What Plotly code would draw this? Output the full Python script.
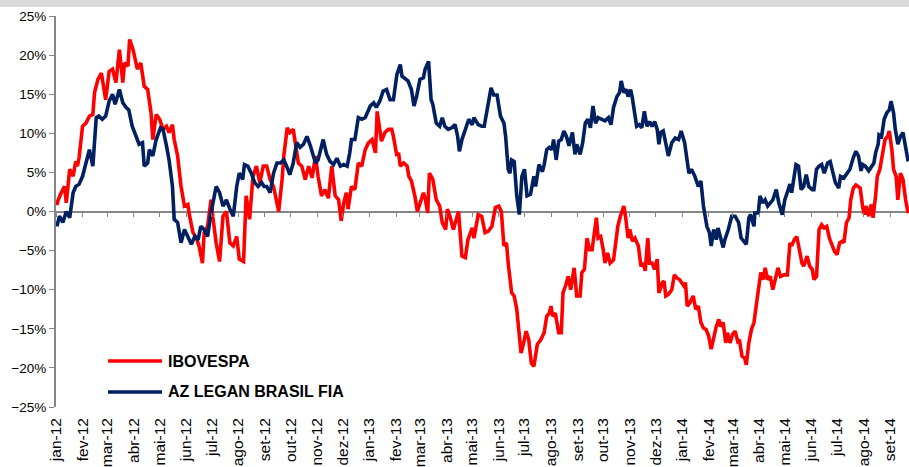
import pandas as pd
import plotly.graph_objects as go

SERIES_NAMES = ["IBOVESPA", "AZ LEGAN BRASIL FIA"]
SERIES_COLORS = ["#FF0000", "#002060"]
MONTH_ABBR = ["jan", "fev", "mar", "abr", "mai", "jun", "jul", "ago", "set", "out", "nov", "dez"]

IBOV_DATES = [
    "2012-01-02", "2012-01-03", "2012-01-07", "2012-01-11", "2012-01-13", "2012-01-17", "2012-01-21", "2012-01-24",
    "2012-01-26", "2012-01-28", "2012-02-01", "2012-02-05", "2012-02-09", "2012-02-13", "2012-02-15", "2012-02-19",
    "2012-02-23", "2012-02-26", "2012-02-28", "2012-03-03", "2012-03-07", "2012-03-11", "2012-03-15", "2012-03-19",
    "2012-03-21", "2012-03-25", "2012-03-27", "2012-03-31", "2012-04-05", "2012-04-09", "2012-04-13", "2012-04-17",
    "2012-04-21", "2012-04-23", "2012-04-27", "2012-05-01", "2012-05-05", "2012-05-09", "2012-05-12", "2012-05-16",
    "2012-05-18", "2012-05-22", "2012-05-26", "2012-05-30", "2012-06-03", "2012-06-05", "2012-06-09", "2012-06-13",
    "2012-06-16", "2012-06-20", "2012-06-22", "2012-06-26", "2012-06-30", "2012-07-02", "2012-07-06", "2012-07-10",
    "2012-07-14", "2012-07-18", "2012-07-22", "2012-07-26", "2012-07-30", "2012-08-02", "2012-08-07", "2012-08-10",
    "2012-08-14", "2012-08-18", "2012-08-22", "2012-08-26", "2012-08-30", "2012-09-03", "2012-09-07", "2012-09-11",
    "2012-09-13", "2012-09-17", "2012-09-21", "2012-09-23", "2012-09-27", "2012-09-30", "2012-10-04", "2012-10-08",
    "2012-10-10", "2012-10-14", "2012-10-18", "2012-10-22", "2012-10-26", "2012-10-30", "2012-11-02", "2012-11-06",
    "2012-11-10", "2012-11-14", "2012-11-18", "2012-11-22", "2012-11-26", "2012-11-29", "2012-12-02", "2012-12-05",
    "2012-12-07", "2012-12-11", "2012-12-15", "2012-12-19", "2012-12-23", "2012-12-27", "2012-12-31", "2013-01-04",
    "2013-01-08", "2013-01-10", "2013-01-13", "2013-01-15", "2013-01-19", "2013-01-23", "2013-01-27", "2013-01-29",
    "2013-02-02", "2013-02-04", "2013-02-06", "2013-02-10", "2013-02-14", "2013-02-16", "2013-02-19", "2013-02-23",
    "2013-02-26", "2013-03-01", "2013-03-05", "2013-03-07", "2013-03-10", "2013-03-12", "2013-03-16", "2013-03-20",
    "2013-03-24", "2013-03-27", "2013-03-31", "2013-04-02", "2013-04-05", "2013-04-09", "2013-04-12", "2013-04-15",
    "2013-04-19", "2013-04-23", "2013-04-26", "2013-05-01", "2013-05-03", "2013-05-08", "2013-05-12", "2013-05-16",
    "2013-05-20", "2013-05-24", "2013-05-28", "2013-06-01", "2013-06-04", "2013-06-07", "2013-06-10", "2013-06-12",
    "2013-06-16", "2013-06-19", "2013-06-22", "2013-06-24", "2013-06-27", "2013-06-30", "2013-07-03", "2013-07-06",
    "2013-07-09", "2013-07-12", "2013-07-16", "2013-07-20", "2013-07-24", "2013-07-27", "2013-07-30", "2013-08-01",
    "2013-08-03", "2013-08-06", "2013-08-10", "2013-08-13", "2013-08-15", "2013-08-18", "2013-08-21", "2013-08-24",
    "2013-08-28", "2013-08-31", "2013-09-04", "2013-09-06", "2013-09-09", "2013-09-12", "2013-09-15", "2013-09-18",
    "2013-09-21", "2013-09-23", "2013-09-25", "2013-09-28", "2013-10-01", "2013-10-03", "2013-10-06", "2013-10-09",
    "2013-10-13", "2013-10-15", "2013-10-18", "2013-10-21", "2013-10-25", "2013-10-27", "2013-10-30", "2013-11-01",
    "2013-11-04", "2013-11-07", "2013-11-11", "2013-11-14", "2013-11-17", "2013-11-19", "2013-11-22", "2013-11-24",
    "2013-11-27", "2013-11-30", "2013-12-03", "2013-12-05", "2013-12-09", "2013-12-11", "2013-12-13", "2013-12-16",
    "2013-12-20", "2013-12-23", "2013-12-26", "2013-12-29", "2013-12-31", "2014-01-03", "2014-01-05", "2014-01-07",
    "2014-01-10", "2014-01-14", "2014-01-17", "2014-01-20", "2014-01-23", "2014-01-26", "2014-01-29", "2014-02-01",
    "2014-02-04", "2014-02-07", "2014-02-10", "2014-02-13", "2014-02-15", "2014-02-18", "2014-02-21", "2014-02-23",
    "2014-02-26", "2014-03-01", "2014-03-04", "2014-03-07", "2014-03-09", "2014-03-12", "2014-03-15", "2014-03-17",
    "2014-03-20", "2014-03-23", "2014-03-26", "2014-03-29", "2014-03-31", "2014-04-03", "2014-04-06", "2014-04-08",
    "2014-04-11", "2014-04-14", "2014-04-17", "2014-04-20", "2014-04-23", "2014-04-26", "2014-04-30", "2014-05-04",
    "2014-05-07", "2014-05-09", "2014-05-12", "2014-05-15", "2014-05-18", "2014-05-21", "2014-05-23", "2014-05-27",
    "2014-05-30", "2014-06-02", "2014-06-04", "2014-06-07", "2014-06-10", "2014-06-13", "2014-06-16", "2014-06-19",
    "2014-06-22", "2014-06-25", "2014-06-28", "2014-07-01", "2014-07-04", "2014-07-07", "2014-07-09", "2014-07-12",
    "2014-07-15", "2014-07-17", "2014-07-20", "2014-07-23", "2014-07-26", "2014-07-28", "2014-07-31", "2014-08-02",
    "2014-08-04", "2014-08-07", "2014-08-10", "2014-08-12", "2014-08-15", "2014-08-17", "2014-08-20", "2014-08-23",
    "2014-08-26", "2014-08-29", "2014-08-31", "2014-09-03", "2014-09-05", "2014-09-08", "2014-09-10", "2014-09-13",
    "2014-09-16", "2014-09-19", "2014-09-22",
]
IBOV_VALUES = [
    0.8, 1.3, 2.4, 3.2, 1.1, 5.4, 4.5, 6.4,
    5.8, 6.9, 10.9, 11.3, 12.2, 12.4, 15.2, 16.9,
    17.7, 16.0, 14.3, 17.9, 18.2, 16.5, 20.7, 16.5,
    19.0, 18.6, 22.0, 20.7, 18.2, 19.0, 16.0, 15.6,
    12.6, 9.2, 12.4, 11.8, 10.5, 10.9, 10.1, 11.1,
    9.2, 7.1, 3.2, 0.7, 0.9, -0.6, -2.7, -3.4,
    -4.4, -6.6, -2.7, -1.9, 1.5, -0.6, -4.0, -6.4,
    -0.6, 0.0, -4.0, -4.4, -3.2, -6.1, -6.4, 2.0,
    -1.0, 4.5, 5.8, 3.7, 5.8, 5.8, 4.1, 3.2,
    2.0, 0.0, 4.1, 7.1, 10.7, 10.1, 10.5, 7.9,
    6.2, 5.8, 4.1, 5.8, 4.3, 7.1, 4.5, 2.0,
    2.8, 1.7, 5.8, 2.0, 1.5, -1.2, 1.1, 2.4,
    0.3, 3.2, 2.8, 6.2, 5.8, 7.9, 8.8, 9.2,
    7.5, 12.8, 10.5, 9.0, 10.1, 10.5, 10.5, 9.6,
    7.1, 7.5, 5.8, 6.2, 5.8, 4.5, 3.9, 2.0,
    0.0, 1.1, 2.4, 1.7, -0.2, 4.9, 4.1, 1.5,
    0.7, -1.4, -2.3, 0.3, -0.6, -2.3, -1.0, 0.0,
    -5.7, -5.9, -3.6, -2.1, -3.4, -0.4, -0.6, -2.7,
    -2.5, -1.9, 0.5, 0.7, 0.0, -4.4, -4.0, -6.6,
    -10.4, -10.8, -12.5, -14.7, -18.1, -16.8, -15.3, -16.4,
    -19.4, -19.8, -17.0, -16.4, -15.5, -13.4, -13.0, -12.1,
    -13.4, -13.0, -15.5, -15.5, -10.4, -9.5, -8.3, -10.0,
    -7.2, -10.8, -10.8, -7.8, -7.4, -3.4, -4.9, -4.9,
    -2.3, -0.8, -3.4, -3.2, -4.9, -6.6, -5.3, -6.6,
    -6.2, -4.4, -1.9, -0.6, 0.7, -0.6, -3.4, -2.3,
    -3.8, -3.4, -4.4, -7.0, -6.6, -7.6, -3.4, -6.6,
    -6.6, -7.4, -6.1, -10.4, -9.1, -8.9, -10.8, -10.6,
    -10.0, -8.1, -8.5, -8.7, -9.1, -9.5, -9.1, -12.1,
    -11.7, -10.8, -12.5, -12.1, -14.2, -14.9, -15.1, -15.9,
    -17.6, -15.9, -14.7, -13.8, -14.7, -14.2, -16.8, -15.5,
    -16.8, -15.7, -15.3, -16.6, -16.4, -18.5, -18.7, -19.6,
    -16.8, -15.1, -14.2, -11.7, -10.4, -7.8, -8.7, -7.2,
    -8.7, -8.3, -10.0, -8.7, -7.2, -8.3, -8.1, -8.1,
    -4.0, -4.4, -3.6, -3.2, -4.9, -6.6, -7.0, -5.7,
    -7.0, -7.4, -8.7, -8.3, -2.3, -1.7, -2.1, -1.9,
    -3.4, -4.4, -5.1, -5.5, -4.0, -3.8, -4.0, -1.4,
    -0.8, 1.5, 3.0, 3.4, 3.2, 3.0, 0.5, -0.4,
    0.7, -0.6, 0.9, -0.8, 2.0, 4.5, 5.4, 7.1,
    9.2, 9.6, 10.3, 7.9, 5.4, 4.5, 1.5, 4.9,
    4.1, 1.5, -0.2,
]

AZ_DATES = [
    "2012-01-02", "2012-01-05", "2012-01-09", "2012-01-13", "2012-01-17", "2012-01-21", "2012-01-24", "2012-01-28",
    "2012-02-01", "2012-02-05", "2012-02-09", "2012-02-13", "2012-02-17", "2012-02-20", "2012-02-24", "2012-02-28",
    "2012-03-03", "2012-03-07", "2012-03-10", "2012-03-15", "2012-03-19", "2012-03-23", "2012-03-26", "2012-03-30",
    "2012-04-03", "2012-04-07", "2012-04-11", "2012-04-13", "2012-04-17", "2012-04-19", "2012-04-23", "2012-04-27",
    "2012-05-02", "2012-05-05", "2012-05-09", "2012-05-12", "2012-05-16", "2012-05-18", "2012-05-22", "2012-05-26",
    "2012-05-30", "2012-06-03", "2012-06-07", "2012-06-11", "2012-06-15", "2012-06-18", "2012-06-22", "2012-06-26",
    "2012-06-30", "2012-07-06", "2012-07-10", "2012-07-14", "2012-07-18", "2012-07-22", "2012-07-26", "2012-07-30",
    "2012-08-02", "2012-08-06", "2012-08-08", "2012-08-12", "2012-08-16", "2012-08-20", "2012-08-24", "2012-08-28",
    "2012-08-31", "2012-09-03", "2012-09-07", "2012-09-11", "2012-09-15", "2012-09-19", "2012-09-23", "2012-09-27",
    "2012-09-30", "2012-10-04", "2012-10-08", "2012-10-12", "2012-10-16", "2012-10-20", "2012-10-24", "2012-10-30",
    "2012-11-02", "2012-11-08", "2012-11-12", "2012-11-16", "2012-11-20", "2012-11-24", "2012-11-28", "2012-12-02",
    "2012-12-06", "2012-12-09", "2012-12-11", "2012-12-15", "2012-12-19", "2012-12-23", "2012-12-27", "2013-01-02",
    "2013-01-06", "2013-01-09", "2013-01-13", "2013-01-17", "2013-01-21", "2013-01-25", "2013-01-29", "2013-02-02",
    "2013-02-06", "2013-02-08", "2013-02-12", "2013-02-15", "2013-02-19", "2013-02-22", "2013-02-25", "2013-03-01",
    "2013-03-05", "2013-03-07", "2013-03-11", "2013-03-14", "2013-03-16", "2013-03-20", "2013-03-24", "2013-03-27",
    "2013-03-30", "2013-04-03", "2013-04-07", "2013-04-11", "2013-04-14", "2013-04-16", "2013-04-19", "2013-04-23",
    "2013-04-27", "2013-05-01", "2013-05-03", "2013-05-08", "2013-05-12", "2013-05-15", "2013-05-19", "2013-05-23",
    "2013-05-26", "2013-05-30", "2013-06-03", "2013-06-07", "2013-06-09", "2013-06-12", "2013-06-14", "2013-06-16",
    "2013-06-19", "2013-06-22", "2013-06-25", "2013-06-28", "2013-07-01", "2013-07-04", "2013-07-08", "2013-07-12",
    "2013-07-14", "2013-07-18", "2013-07-22", "2013-07-24", "2013-07-27", "2013-07-30", "2013-08-02", "2013-08-04",
    "2013-08-07", "2013-08-10", "2013-08-13", "2013-08-16", "2013-08-19", "2013-08-22", "2013-08-26", "2013-08-29",
    "2013-08-31", "2013-09-04", "2013-09-07", "2013-09-10", "2013-09-13", "2013-09-16", "2013-09-19", "2013-09-22",
    "2013-09-25", "2013-09-30", "2013-10-03", "2013-10-07", "2013-10-10", "2013-10-13", "2013-10-17", "2013-10-20",
    "2013-10-22", "2013-10-25", "2013-10-28", "2013-10-30", "2013-11-02", "2013-11-04", "2013-11-07", "2013-11-09",
    "2013-11-12", "2013-11-15", "2013-11-18", "2013-11-21", "2013-11-24", "2013-11-27", "2013-11-30", "2013-12-03",
    "2013-12-05", "2013-12-07", "2013-12-10", "2013-12-13", "2013-12-16", "2013-12-20", "2013-12-24", "2013-12-28",
    "2013-12-31", "2014-01-04", "2014-01-06", "2014-01-09", "2014-01-12", "2014-01-16", "2014-01-20", "2014-01-23",
    "2014-01-26", "2014-01-30", "2014-02-02", "2014-02-04", "2014-02-07", "2014-02-10", "2014-02-12", "2014-02-15",
    "2014-02-18", "2014-02-20", "2014-02-24", "2014-02-28", "2014-03-04", "2014-03-08", "2014-03-11", "2014-03-14",
    "2014-03-17", "2014-03-20", "2014-03-22", "2014-03-26", "2014-03-27", "2014-03-31", "2014-04-02", "2014-04-05",
    "2014-04-08", "2014-04-11", "2014-04-14", "2014-04-17", "2014-04-21", "2014-04-24", "2014-04-28", "2014-05-01",
    "2014-05-05", "2014-05-07", "2014-05-09", "2014-05-12", "2014-05-14", "2014-05-17", "2014-05-20", "2014-05-23",
    "2014-05-26", "2014-05-29", "2014-06-02", "2014-06-04", "2014-06-07", "2014-06-10", "2014-06-13", "2014-06-16",
    "2014-06-20", "2014-06-23", "2014-06-26", "2014-06-29", "2014-07-03", "2014-07-05", "2014-07-09", "2014-07-13",
    "2014-07-16", "2014-07-20", "2014-07-23", "2014-07-26", "2014-07-29", "2014-07-31", "2014-08-03", "2014-08-07",
    "2014-08-10", "2014-08-13", "2014-08-15", "2014-08-18", "2014-08-19", "2014-08-22", "2014-08-25", "2014-08-28",
    "2014-08-31", "2014-09-02", "2014-09-05", "2014-09-07", "2014-09-10", "2014-09-13", "2014-09-16", "2014-09-19",
    "2014-09-22",
]
AZ_VALUES = [
    -1.9, -0.6, -1.4, 0.0, -0.8, 2.4, 3.2, 3.5,
    4.5, 6.2, 7.9, 5.8, 12.0, 12.2, 11.8, 12.2,
    14.1, 15.0, 13.7, 15.6, 13.9, 13.3, 13.0, 10.9,
    9.6, 8.6, 8.8, 5.8, 6.2, 7.9, 7.1, 9.2,
    10.7, 10.5, 8.4, 6.6, 3.2, -1.0, -1.4, -4.0,
    -2.3, -3.4, -4.2, -3.2, -3.6, -1.9, -2.3, -3.2,
    -0.2, 3.2, 2.4, 0.7, 1.5, 0.3, -0.6, 3.2,
    4.9, 4.1, 6.0, 5.8, 4.9, 3.7, 3.2, 3.7,
    3.2, 3.2, 2.4, 4.9, 6.2, 6.2, 6.6, 5.6,
    4.7, 6.2, 8.8, 8.2, 8.6, 9.6, 8.4, 6.2,
    6.6, 9.2, 7.3, 6.4, 6.0, 6.8, 5.8, 6.0,
    5.8, 7.5, 9.2, 9.2, 12.0, 11.8, 12.0, 13.5,
    13.9, 13.3, 14.1, 15.4, 15.6, 14.3, 14.3, 17.5,
    18.8, 17.3, 16.9, 16.7, 15.6, 13.5, 14.7, 16.9,
    17.1, 18.2, 19.2, 14.3, 13.7, 11.3, 10.9, 12.0,
    10.9, 10.5, 10.7, 11.1, 9.6, 7.7, 9.2, 10.5,
    11.8, 11.1, 12.0, 11.1, 10.9, 10.9, 13.5, 15.8,
    14.9, 14.9, 12.2, 11.3, 9.6, 5.4, 4.9, 6.6,
    6.4, 2.0, -0.4, 4.5, 5.4, 2.0, 2.2, 4.5,
    3.2, 6.0, 5.1, 6.0, 7.9, 8.2, 7.9, 9.2,
    6.6, 9.0, 9.2, 10.3, 9.6, 8.4, 10.1, 7.3,
    8.6, 7.3, 8.8, 11.3, 11.8, 10.7, 13.5, 11.3,
    12.0, 11.8, 11.6, 12.0, 11.1, 13.3, 14.7, 15.2,
    16.7, 15.2, 15.6, 14.7, 15.6, 14.5, 11.8, 10.9,
    11.1, 10.7, 12.8, 10.9, 11.5, 10.9, 11.5, 10.5,
    8.6, 10.1, 10.3, 8.8, 7.1, 8.8, 9.4, 9.2,
    10.3, 8.8, 7.1, 4.9, 5.4, 4.5, 3.2, 3.9,
    0.7, -1.9, -2.7, -4.4, -2.3, -3.6, -2.1, -3.4,
    -4.6, -3.6, -2.3, -0.6, -0.6, -1.4, -3.4, -3.8,
    -4.2, -0.8, -0.4, -1.9, -0.2, -0.2, 2.0, 1.1,
    1.5, 0.7, 1.1, 1.5, 2.8, 1.1, -0.4, 1.5,
    2.8, 3.5, 2.4, 4.9, 6.0, 5.8, 2.8, 3.2,
    4.7, 3.2, 2.8, 2.8, 5.4, 5.8, 6.0, 4.9,
    6.2, 6.4, 4.9, 3.7, 3.0, 4.5, 4.3, 4.9,
    5.4, 6.9, 7.7, 7.1, 5.2, 6.0, 5.8, 5.2,
    5.8, 6.2, 7.5, 8.6, 9.8, 9.6, 11.8, 12.6,
    13.0, 14.1, 12.6, 10.5, 8.6, 9.6, 10.1, 8.4,
    6.4,
]

X_RANGE = ["2012-01-01", "2014-09-23"]
Y_RANGE = [-25, 25]

FONT = "Arial, 'Liberation Sans', sans-serif"
AXIS_GRAY = "#868686"

month_starts = pd.date_range("2012-01-01", "2014-09-01", freq="MS")
tick_vals = [d.strftime("%Y-%m-%d") for d in month_starts]
tick_text = [f"{MONTH_ABBR[d.month - 1]}-{d.strftime('%y')}" for d in month_starts]

fig = go.Figure()
for name, color, xs, ys in [
    (SERIES_NAMES[0], SERIES_COLORS[0], IBOV_DATES, IBOV_VALUES),
    (SERIES_NAMES[1], SERIES_COLORS[1], AZ_DATES, AZ_VALUES),
]:
    fig.add_trace(go.Scatter(x=xs, y=ys, mode="lines", name=name,
                             line=dict(color=color, width=3.6), showlegend=False))

# invisible helper so the zero-line tick axis is rendered
fig.add_trace(go.Scatter(x=[X_RANGE[0]], y=[0], xaxis="x2", mode="markers",
                         marker=dict(opacity=0), showlegend=False, hoverinfo="skip"))

zero_pos = (0 - Y_RANGE[0]) / (Y_RANGE[1] - Y_RANGE[0])

fig.update_layout(
    width=909, height=467,
    margin=dict(l=56, r=0, t=16, b=60, autoexpand=False),
    paper_bgcolor="white", plot_bgcolor="white",
    font=dict(family=FONT, size=13, color="#000000"),
    xaxis=dict(range=X_RANGE, type="date", tickvals=tick_vals, ticktext=tick_text,
               tickangle=-90, showgrid=False, zeroline=False, showline=False, ticks="",
               tickfont=dict(size=15.5, color="#000000"), automargin=False, ticklabelstandoff=7),
    xaxis2=dict(range=X_RANGE, type="date", overlaying="x", anchor="free", position=zero_pos,
                tickvals=tick_vals, showticklabels=False, ticks="outside", ticklen=4,
                tickwidth=1, tickcolor=AXIS_GRAY, showline=False, showgrid=False, zeroline=False),
    yaxis=dict(range=Y_RANGE, dtick=5, tick0=0, ticksuffix="%", showgrid=False,
               zeroline=True, zerolinecolor=AXIS_GRAY, zerolinewidth=2,
               showline=True, linecolor=AXIS_GRAY, linewidth=2,
               ticks="outside", ticklen=5, tickwidth=1, tickcolor=AXIS_GRAY,
               tickfont=dict(size=13.5, color="#000000"), automargin=False),
    showlegend=False,
)

# top grey band
fig.add_shape(type="rect", xref="paper", yref="paper", x0=-0.1, x1=1.0,
              y0=1 + 9 / 391, y1=1 + 16 / 391, fillcolor="#D9D9D9", line=dict(width=0), layer="above")

# legend drawn as line samples with labels
legend_rows = [0.1176, 0.0384]
for name, color, yl in zip(SERIES_NAMES, SERIES_COLORS, legend_rows):
    fig.add_shape(type="line", xref="paper", yref="paper", x0=0.061, x1=0.1243, y0=yl, y1=yl,
                  line=dict(color=color, width=3.6))
    fig.add_annotation(xref="paper", yref="paper", x=0.129, y=yl, text=f"<b>{name}</b>",
                       showarrow=False, xanchor="left", yanchor="middle",
                       font=dict(family=FONT, size=16, color="#000000"))

fig.write_html("out.html", config={"displayModeBar": False},
               post_script="document.body.style.margin='0px';document.body.style.overflow='hidden';")
